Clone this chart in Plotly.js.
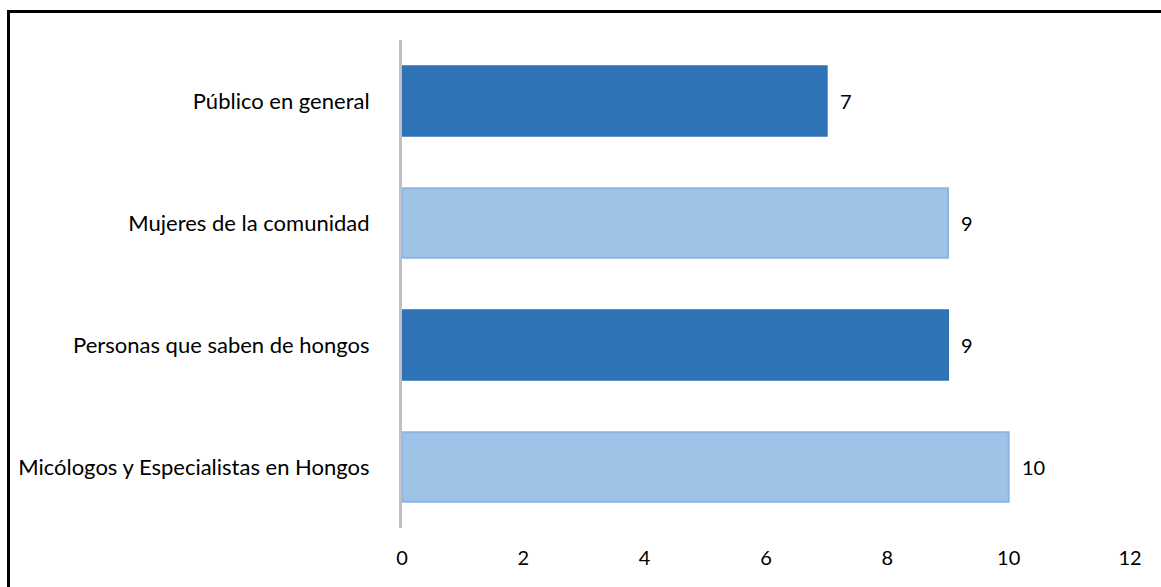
<!DOCTYPE html>
<html>
<head>
<meta charset="utf-8">
<script src="https://cdn.plot.ly/plotly-3.0.1.min.js"></script>
<style>
  html, body { margin: 0; padding: 0; background: #fff; }
  #wrap { position: relative; width: 1161px; height: 587px; overflow: hidden; }
  #chart { position: absolute; left: 0; top: 0; width: 1161px; height: 587px; }
  #frame { position: absolute; left: 7px; top: 10px; width: 1200px; height: 640px;
           border: 3px solid #000; box-sizing: border-box; pointer-events: none; }
</style>
</head>
<body>
<div id="wrap">
  <div id="chart"></div>
  <div id="frame"></div>
</div>
<script>
// Categories listed top to bottom as shown in the chart
const categories = [
  "Público en general",
  "Mujeres de la comunidad",
  "Personas que saben de hongos",
  "Micólogos y Especialistas en Hongos"
];
const values = [7, 9, 9, 10];
const barColors = ["#2E74B7", "#9DC3E6", "#2E74B7", "#9DC3E6"];
const barEdges = ["#3070B8", "#8CB3E1", "#3070B8", "#8CB3E1"];
const xTicks = [0, 2, 4, 6, 8, 10, 12];

const FONT = "Lato, 'Open Sans', sans-serif";

const trace = {
  type: "bar",
  orientation: "h",
  x: values,
  y: categories,
  marker: { color: barColors, line: { color: barEdges, width: 2 } },
  hoverinfo: "skip"
};

const annotations = values.map((v, i) => ({
  x: v, y: categories[i], xref: "x", yref: "y",
  text: String(v), showarrow: false,
  xanchor: "left", xshift: 11,
  font: { family: FONT, size: 20, color: "#000" }
}));

const layout = {
  width: 1161, height: 587,
  margin: { l: 402, r: 31, t: 40, b: 59, pad: 0 },
  paper_bgcolor: "#fff", plot_bgcolor: "#fff",
  showlegend: false,
  bargap: 0.43,
  font: { family: FONT, size: 20, color: "#000" },
  xaxis: {
    range: [0, 12], tickvals: xTicks, ticktext: xTicks.map(String),
    showgrid: false, zeroline: false, showline: false, ticks: "",
    tickfont: { family: FONT, size: 20, color: "#000" },
    ticklabelstandoff: 16, fixedrange: true
  },
  yaxis: {
    type: "category", autorange: "reversed",
    showgrid: false, zeroline: false,
    showline: true, linecolor: "#C0C0C0", linewidth: 3,
    ticks: "", ticklabelstandoff: 25,
    tickfont: { family: FONT, size: 22, color: "#000" },
    fixedrange: true
  },
  annotations: annotations
};

Plotly.newPlot("chart", [trace], layout, { staticPlot: true, displayModeBar: false });
</script>
</body>
</html>
